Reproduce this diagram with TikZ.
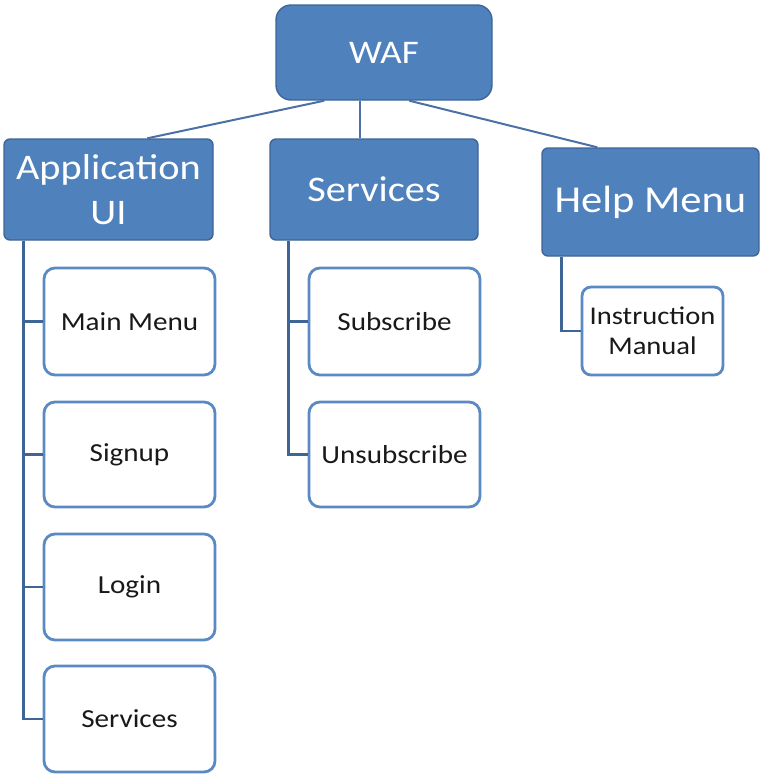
\documentclass[tikz,border=0pt]{standalone}
\usepackage{fontspec}
\setmainfont[FakeStretch=1.12]{Carlito}
\usetikzlibrary{calc}
\definecolor{boxblue}{HTML}{4F81BD}
\definecolor{edgeblue}{HTML}{3D6596}
\definecolor{linkblue}{HTML}{4A70A6}
\definecolor{childedge}{HTML}{5A89C4}
\tikzset{
  topbox/.style={draw=edgeblue, line width=1.4pt, fill=boxblue, text=white,
    rounded corners=6pt, inner sep=0pt, align=center},
  childbox/.style={draw=childedge, line width=2.8pt, fill=white, text=black!90,
    rounded corners=11pt, inner sep=0pt, align=center,
    font=\fontsize{26}{30}\selectfont},
  link/.style={draw=linkblue, line width=2pt},
  spine/.style={draw=edgeblue, line width=2.6pt},
}
\begin{document}
\begin{tikzpicture}[x=1pt, y=-1pt]
\useasboundingbox (0,0) rectangle (760,774);

% top level
\node[topbox, rounded corners=15pt, minimum width=216pt, minimum height=95pt,
      font=\fontsize{33}{38}\selectfont] (waf) at (384,52.5) {WAF};
\node[topbox, minimum width=209pt, minimum height=101pt,
      font=\fontsize{36}{45}\selectfont] (appui) at (108.5,189.5) {Application\\UI};
\node[topbox, minimum width=208pt, minimum height=101pt,
      font=\fontsize{36}{44}\selectfont] (serv) at (374,189.5) {Services};
\node[topbox, minimum width=217pt, minimum height=108pt,
      font=\fontsize{38}{46}\selectfont] (help) at (650.5,202) {Help Menu};

% children of Application UI
\node[childbox, minimum width=171pt, minimum height=107pt] (mainmenu) at (129.5,321.5) {Main Menu};
\node[childbox, minimum width=171pt, minimum height=105pt] (signup) at (129.5,454.5) {Signup};
\node[childbox, minimum width=171pt, minimum height=106pt] (login) at (129.5,587) {Login};
\node[childbox, minimum width=171pt, minimum height=106pt] (appserv) at (129.5,719) {Services};

% children of Services
\node[childbox, minimum width=171pt, minimum height=107pt] (sub) at (394.5,321.5) {Subscribe};
\node[childbox, minimum width=171pt, minimum height=105pt] (unsub) at (394.5,454.5) {Unsubscribe};

% child of Help Menu
\node[childbox, rounded corners=9pt, minimum width=141pt, minimum height=88pt,
      font=\fontsize{25.5}{30}\selectfont] (manual) at (652.5,331) {Instruction\\Manual};

% links from the root
\draw[link] ($(waf.south west)+(49,0)$) -- ($(appui.north west)+(144,0)$);
\draw[link] ($(waf.south west)+(85,0)$) -- ($(serv.north west)+(91,0)$);
\draw[link] ($(waf.south west)+(134,0)$) -- ($(help.north west)+(56,0)$);

% spines to the children
\draw[spine] ($(appui.south west)+(20,0)$) |- (mainmenu.west);
\draw[spine] ($(appui.south west)+(20,0)$) |- (signup.west);
\draw[spine] ($(appui.south west)+(20,0)$) |- (login.west);
\draw[spine] ($(appui.south west)+(20,0)$) |- (appserv.west);
\draw[spine] ($(serv.south west)+(19,0)$) |- (sub.west);
\draw[spine] ($(serv.south west)+(19,0)$) |- (unsub.west);
\draw[spine] ($(help.south west)+(20,0)$) |- (manual.west);
\end{tikzpicture}
\end{document}
